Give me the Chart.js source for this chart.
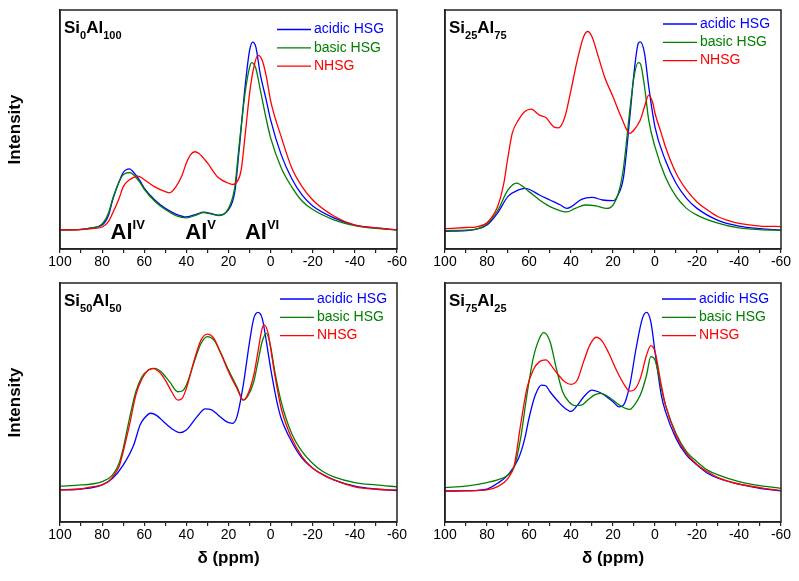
<!DOCTYPE html>
<html>
<head>
<meta charset="utf-8">
<script src="https://cdn.jsdelivr.net/npm/chart.js@4.4.0/dist/chart.umd.min.js"></script>
<style>
  body { margin: 0; background: #fff; }
  #wrap { position: relative; width: 799px; height: 581px; overflow: hidden; }
  canvas { position: absolute; }
</style>
</head>
<body>
<div id="wrap">
  <canvas id="c0" width="420" height="272" style="left:0;top:0"></canvas>
  <canvas id="c1" width="399" height="272" style="left:400px;top:0"></canvas>
  <canvas id="c2" width="420" height="309" style="left:0;top:272px"></canvas>
  <canvas id="c3" width="399" height="309" style="left:400px;top:272px"></canvas>
</div>
<script>
// series names
const seriesNames = ['acidic HSG', 'basic HSG', 'NHSG'];
const xTicks = [100, 80, 60, 40, 20, 0, -20, -40, -60];

// Si0Al100
const ppmAcidic0 = [100, 90, 85, 80, 77, 75, 72, 70, 67, 65, 62, 60, 55, 50, 45, 40, 35, 32, 28, 25, 20, 17, 15, 12, 10, 8.5, 7, 5, 2, 0, -5, -10, -15, -20, -30, -40, -50, -60];
const intAcidic0 = [8, 8.2, 8.8, 10, 14, 20.5, 28, 32, 33.5, 32, 28.5, 25.5, 20.5, 17, 14.6, 13.4, 14.6, 15.4, 14.8, 14.2, 16.5, 24, 41, 69, 83, 86.6, 84.5, 73.6, 62, 54, 39.5, 29.5, 22.5, 18, 13, 10, 8.8, 8];
const ppmBasic0 = [100, 90, 85, 80, 77, 75, 72, 70, 67, 65, 62, 60, 55, 50, 45, 40, 35, 32, 28, 25, 20, 17, 15, 12, 10, 9, 7, 5, 2, 0, -5, -10, -15, -20, -30, -40, -50, -60];
const intBasic0 = [8, 8.2, 8.8, 10.5, 15, 21, 28, 31, 32, 31, 27.8, 25, 20, 16.5, 14, 13, 14.3, 15.2, 14.6, 14, 17, 26, 43, 66, 76, 78, 75.5, 67, 54, 46.5, 34, 26, 20, 16.5, 12.2, 9.8, 8.6, 8];
const ppmNhsg0 = [100, 90, 85, 80, 77, 75, 72, 70, 67, 65, 63, 60, 55, 50, 48, 45, 42, 40, 38, 36, 34, 30, 25, 20, 18, 16, 14, 12, 10, 8, 6, 4, 2, 0, -5, -10, -15, -20, -30, -40, -50, -60];
const intNhsg0 = [8, 8.1, 8.5, 9.2, 11.5, 15, 21, 26, 29, 30, 30.5, 29, 26, 24, 23.5, 26, 31, 36, 39.5, 40.7, 40, 36, 30, 27.5, 27, 28, 33, 48.5, 65, 76, 81, 79, 72, 62, 47, 34, 26, 20.5, 13.8, 10, 8.8, 8];

// Si25Al75
const ppmAcidic25 = [100, 90, 85, 80, 75, 70, 65, 62, 60, 55, 50, 45, 42, 40, 35, 30, 25, 20, 18, 15, 12, 10, 8, 7, 5, 3, 0, -5, -10, -15, -20, -30, -40, -50, -60];
const intAcidic25 = [7.4, 7.7, 8.3, 10, 15, 22, 24.7, 25.4, 25, 22.6, 20.5, 18.4, 17, 17.6, 20.8, 21.6, 20.5, 20.2, 22, 30, 55, 73.5, 86, 86.7, 82, 68, 51, 37, 27.5, 21.2, 17, 12, 9.6, 8.5, 7.9];
const ppmBasic25 = [100, 90, 85, 80, 75, 70, 66, 60, 55, 50, 45, 42, 38, 33, 28, 23, 20, 17, 15, 12, 10, 8, 7, 5, 3, 0, -5, -10, -15, -20, -30, -40, -50, -60];
const intBasic25 = [7.7, 7.9, 8.3, 10.5, 16, 24.7, 27.6, 24, 20.5, 17.7, 16, 15.5, 17, 18.4, 18, 17, 18.4, 24.7, 34, 58, 72, 78, 77.6, 68, 54, 42.7, 30, 22, 17, 14.2, 10.8, 8.8, 8.1, 7.8];
const ppmNhsg25 = [100, 90, 85, 80, 75, 72, 70, 68, 65, 62, 59, 55, 52, 48, 46, 43, 40, 37, 34, 32, 30, 27, 24, 20, 16, 12, 10, 7, 5, 3, 1, 0, -3, -5, -10, -15, -20, -25, -30, -35, -40, -50, -60];
const intNhsg25 = [8.5, 9, 9.3, 11, 17.7, 27.5, 38.6, 48.4, 54, 57.5, 58.5, 56, 55, 51, 50.7, 55, 66.5, 79, 88.8, 91, 88.8, 80.5, 72, 63.7, 55, 48.4, 49.8, 54, 59.5, 64.4, 61, 56.8, 48.4, 42.7, 31.8, 24.7, 19.7, 16.3, 13.5, 11.9, 10.7, 9.6, 9.4];

// Si50Al50
const ppmAcidic50 = [100, 90, 85, 80, 75, 70, 65, 62, 60, 57, 54, 50, 46, 43, 40, 35, 31, 28, 25, 21, 18, 16, 13, 10, 8, 6, 4, 2, 0, -3, -5, -10, -15, -20, -25, -30, -40, -50, -60];
const intAcidic50 = [13.4, 13.8, 14.3, 15.5, 18.3, 23.8, 32.2, 40.6, 43.4, 45.5, 44.5, 41.3, 38.5, 37.4, 38.5, 44, 47.3, 46.9, 44.8, 42, 41.3, 44, 57.3, 75.4, 85.2, 87.7, 85.2, 75.4, 64.3, 50.3, 43.4, 33.6, 26.6, 22.5, 19.7, 17.6, 15, 13.8, 13.1];
const ppmBasic50 = [100, 90, 85, 80, 75, 72, 70, 67, 64, 61, 58, 55, 52, 48, 44, 42, 40, 36, 33, 30, 27, 24, 20, 16, 13, 11, 8, 6, 4, 2, 0, -2, -5, -10, -15, -20, -25, -30, -40, -50, -60];
const intBasic50 = [15, 15.5, 15.9, 16.9, 19.7, 24.5, 30.8, 43.4, 54.5, 60.8, 63.6, 64.3, 62.9, 58.7, 54.5, 54.8, 57.3, 67.8, 74.8, 77.6, 76.2, 71.3, 63.6, 56.6, 51, 52.4, 58.7, 67.1, 75.5, 78.9, 73.4, 62.9, 50.3, 37, 29.4, 24.5, 21, 18.9, 16.5, 15.5, 14.7];
const ppmNhsg50 = [100, 90, 85, 80, 77, 75, 72, 70, 67, 64, 61, 58, 56, 53, 50, 47, 44, 42, 40, 36, 33, 30, 27, 24, 20, 16, 13, 11, 8, 6, 4, 3, 1, 0, -2, -5, -10, -15, -20, -25, -30, -40, -50, -60];
const intNhsg50 = [13.4, 13.8, 14.7, 15.5, 16.9, 18.9, 23.1, 29.4, 40.6, 53.1, 60.1, 63.6, 64.3, 62.9, 59.4, 54.5, 51, 51.7, 55.9, 68.5, 76.2, 78.6, 76.9, 71.3, 62.9, 55.9, 51, 53.1, 61.5, 71.3, 81.1, 82.5, 78.3, 72.7, 61.5, 47.6, 35, 27.3, 22.5, 19.7, 17.6, 14.7, 13.7, 13.4];

// Si75Al25
const ppmAcidic75 = [100, 90, 80, 75, 70, 65, 62, 60, 57, 54, 52, 50, 46, 43, 40, 37, 34, 30, 27, 24, 20, 17, 15, 12, 9, 6, 4, 2, 0, -3, -5, -10, -15, -20, -25, -30, -40, -50, -60];
const intAcidic75 = [13, 13.1, 13.8, 16.2, 19.7, 26.6, 35, 43.4, 53.1, 57.3, 57, 54.5, 50.3, 47.7, 46.3, 48.8, 52.3, 55.2, 54.5, 53.1, 50.3, 48.2, 48.9, 57.3, 72.7, 85.2, 87.7, 83.8, 71.3, 53.1, 46.2, 35, 28, 23.8, 20.4, 18.3, 15.8, 14.1, 13];
const ppmBasic75 = [100, 90, 80, 75, 70, 67, 64, 61, 58, 55, 53, 50, 47, 44, 41, 38, 35, 32, 29, 26, 22, 18, 14, 12, 10, 7, 4, 2, 0, -3, -5, -10, -15, -20, -25, -30, -40, -50, -60];
const intBasic75 = [14.4, 15, 16.5, 17.6, 19.7, 23.1, 35, 53.1, 68.5, 76.9, 79.2, 75.5, 64.3, 54.5, 50.3, 48.7, 48.9, 51, 53.1, 53.8, 52.3, 49.6, 47.5, 47.1, 48.7, 53.1, 61.5, 69.2, 67.8, 55.9, 48.9, 37, 29.4, 25.2, 21.7, 19.7, 16.9, 15.2, 14.1];
const ppmNhsg75 = [100, 90, 80, 75, 70, 67, 64, 61, 58, 55, 52, 49, 46, 43, 40, 37, 34, 31, 28, 25, 22, 18, 14, 12, 10, 7, 4, 2, 0, -3, -5, -10, -15, -20, -25, -30, -40, -50, -60];
const intNhsg75 = [12.8, 13, 13.4, 14.8, 18.3, 23.8, 40.6, 55.9, 63.6, 67.1, 67.8, 65, 61.5, 58.7, 57.6, 59.4, 67.1, 74.1, 77.3, 75.5, 70.6, 62.9, 56.6, 54.8, 55.2, 60.1, 69.9, 73.8, 71.3, 57.3, 48.9, 36.3, 28.7, 24.1, 21, 18.6, 15.9, 14.4, 13.1];

const colors = ['#0000ff', '#008000', '#ff0000'];
Chart.defaults.font.family = '"Liberation Sans", Arial, sans-serif';
Chart.defaults.color = '#000';

function zip(xs, ys) {
    return xs.map((x, i) => ({ x: x, y: ys[i] }));
}

function drawFormula(ctx, x, y, parts) {
    parts.forEach((p, i) => {
        const sub = i % 2 === 1;
        ctx.font = sub ? 'bold 11px "Liberation Sans", Arial' : 'bold 17px "Liberation Sans", Arial';
        ctx.fillText(p, x, sub ? y + 6 : y);
        x += ctx.measureText(p).width;
    });
}

// frame, title, legend and peak labels
const decorations = {
    id: 'decorations',
    afterDraw(chart, args, opts) {
        const { ctx, chartArea: a } = chart;
        ctx.save();
        ctx.strokeStyle = '#222';
        ctx.lineWidth = 1.5;
        ctx.strokeRect(a.left, a.top, a.right - a.left, a.bottom - a.top);

        ctx.fillStyle = '#000';
        ctx.textBaseline = 'alphabetic';
        ctx.textAlign = 'left';
        drawFormula(ctx, a.left + 4, a.top + 23, opts.formula);

        ctx.font = '14px "Liberation Sans", Arial';
        ctx.textBaseline = 'middle';
        seriesNames.forEach((name, i) => {
            const y = a.top + opts.legY + i * 18.3;
            ctx.strokeStyle = colors[i];
            ctx.lineWidth = 1.3;
            ctx.beginPath();
            ctx.moveTo(a.right - opts.legX, y);
            ctx.lineTo(a.right - opts.legX + 34, y);
            ctx.stroke();
            ctx.fillStyle = colors[i];
            ctx.fillText(name, a.right - opts.legX + 37, y);
        });

        if (opts.peaks) {
            const xs = chart.scales.x;
            ctx.fillStyle = '#000';
            ctx.textBaseline = 'alphabetic';
            opts.peaks.forEach(([ppm, sup]) => {
                const px = xs.getPixelForValue(ppm);
                const base = a.top + 229;
                ctx.font = 'bold 22px "Liberation Sans", Arial';
                ctx.fillText('Al', px, base);
                const w = ctx.measureText('Al').width;
                ctx.font = 'bold 13px "Liberation Sans", Arial';
                ctx.fillText(sup, px + w, base - 10);
            });
        }
        ctx.restore();
    }
};

function makeChart(id, data, cfg) {
    const canvas = document.getElementById(id);
    const h = canvas.height, w = canvas.width;
    const datasets = data.map((d, i) => ({
        label: seriesNames[i],
        data: zip(d[0], d[1]),
        borderColor: colors[i],
        borderWidth: 1.3,
        pointRadius: 0,
        fill: false,
        cubicInterpolationMode: 'monotone',
        order: 2 - i
    }));
    return new Chart(canvas.getContext('2d'), {
        type: 'line',
        data: { datasets: datasets },
        plugins: [decorations],
        options: {
            responsive: false,
            animation: false,
            layout: { padding: { left: 0, right: w - cfg.area.r, top: cfg.area.t, bottom: 0 } },
            plugins: {
                legend: { display: false },
                tooltip: { enabled: false },
                decorations: { formula: cfg.formula, legX: cfg.legX, legY: cfg.legY, peaks: cfg.peaks }
            },
            scales: {
                x: {
                    type: 'linear',
                    reverse: true,
                    min: -60,
                    max: 100,
                    border: { color: '#222', width: 1.5 },
                    grid: { drawOnChartArea: false, color: '#222', tickLength: 4, lineWidth: 1.2 },
                    ticks: {
                        stepSize: 10,
                        autoSkip: false,
                        maxRotation: 0,
                        padding: 1,
                        font: { size: 14 },
                        callback: v => xTicks.includes(v) ? String(v) : ''
                    },
                    title: {
                        display: cfg.bottom,
                        text: 'δ (ppm)',
                        font: { size: 17, weight: 'bold' },
                        padding: { top: 0, bottom: 12 }
                    },
                    afterFit: s => { s.height = h - cfg.area.b; }
                },
                y: {
                    min: 0,
                    max: 100,
                    border: { color: '#222', width: 1.5 },
                    grid: { display: false },
                    ticks: { display: false },
                    title: {
                        display: cfg.left,
                        text: 'Intensity',
                        font: { size: 17, weight: 'bold' },
                        padding: { top: 5, bottom: 0 }
                    },
                    afterFit: s => { s.width = cfg.area.l; }
                }
            }
        }
    });
}

makeChart('c0', [[ppmAcidic0, intAcidic0], [ppmBasic0, intBasic0], [ppmNhsg0, intNhsg0]], {
    area: { l: 60, r: 397, t: 10, b: 249 }, left: true, bottom: false,
    formula: ['Si', '0', 'Al', '100'], legX: 120, legY: 19.5,
    peaks: [[76, 'IV'], [40.5, 'V'], [12.2, 'VI']]
});
makeChart('c1', [[ppmAcidic25, intAcidic25], [ppmBasic25, intBasic25], [ppmNhsg25, intNhsg25]], {
    area: { l: 45, r: 381, t: 10, b: 249 }, left: false, bottom: false,
    formula: ['Si', '25', 'Al', '75'], legX: 118, legY: 14
});
makeChart('c2', [[ppmAcidic50, intAcidic50], [ppmBasic50, intBasic50], [ppmNhsg50, intNhsg50]], {
    area: { l: 60, r: 397, t: 11, b: 250 }, left: true, bottom: true,
    formula: ['Si', '50', 'Al', '50'], legX: 117, legY: 16
});
makeChart('c3', [[ppmAcidic75, intAcidic75], [ppmBasic75, intBasic75], [ppmNhsg75, intNhsg75]], {
    area: { l: 45, r: 381, t: 11, b: 250 }, left: false, bottom: true,
    formula: ['Si', '75', 'Al', '25'], legX: 119, legY: 16
});
</script>
</body>
</html>
